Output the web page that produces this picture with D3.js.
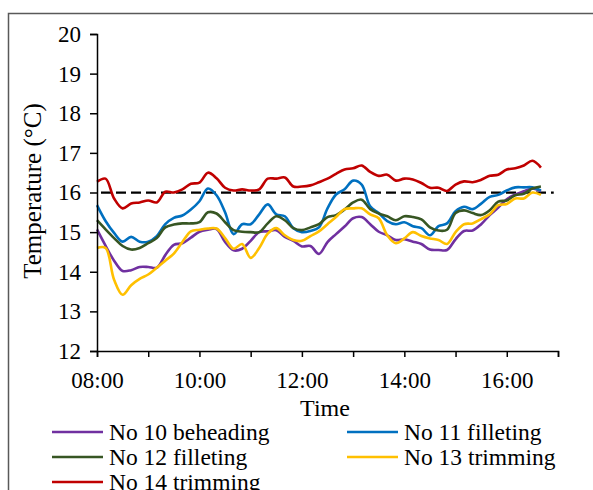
<!DOCTYPE html>
<html>
<head>
<meta charset="utf-8">
<script src="https://cdn.jsdelivr.net/npm/d3@7"></script>
<style>
  body { margin: 0; background: #fff; }
  svg text { font-family: "Liberation Serif", "Times New Roman", serif; fill: #000; }
</style>
</head>
<body>
<svg id="chart" width="593" height="490"></svg>
<script>
// readings every 10 minutes, 08:00 - 16:40
const times = [
  "08:00","08:10","08:20","08:30","08:40","08:50",
  "09:00","09:10","09:20","09:30","09:40","09:50",
  "10:00","10:10","10:20","10:30","10:40","10:50",
  "11:00","11:10","11:20","11:30","11:40","11:50",
  "12:00","12:10","12:20","12:30","12:40","12:50",
  "13:00","13:10","13:20","13:30","13:40","13:50",
  "14:00","14:10","14:20","14:30","14:40","14:50",
  "15:00","15:10","15:20","15:30","15:40","15:50",
  "16:00","16:10","16:20","16:30","16:40"
];

const no10 = [15.07,14.66,14.28,14.02,14.04,14.12,14.12,14.10,14.42,14.68,14.72,14.86,
  15.01,15.06,15.08,14.75,14.54,14.58,14.78,15.00,15.02,15.05,14.88,14.78,
  14.64,14.65,14.45,14.75,14.95,15.14,15.35,15.38,15.20,15.01,14.92,14.80,
  14.82,14.76,14.70,14.56,14.55,14.55,14.82,15.03,15.04,15.20,15.43,15.62,
  15.83,15.95,16.03,16.10,16.03];

const no11 = [15.68,15.28,14.98,14.76,14.88,14.76,14.76,14.90,15.20,15.36,15.42,15.57,
  15.78,16.10,15.93,15.50,14.95,15.20,15.20,15.45,15.70,15.45,15.40,15.10,
  15.00,15.03,15.12,15.60,15.95,16.08,16.30,16.20,15.65,15.48,15.28,15.20,
  15.25,15.15,15.10,14.92,15.15,15.22,15.53,15.64,15.58,15.72,15.89,15.94,
  16.05,16.13,16.13,16.13,16.05];

const no12 = [15.30,15.07,14.85,14.65,14.56,14.60,14.72,14.85,15.12,15.19,15.22,15.22,
  15.25,15.50,15.47,15.25,15.05,15.01,15.00,15.00,15.22,15.40,15.30,15.10,
  15.05,15.12,15.20,15.38,15.43,15.57,15.75,15.82,15.58,15.47,15.40,15.30,
  15.40,15.38,15.32,15.12,15.04,15.06,15.48,15.55,15.48,15.43,15.55,15.77,
  15.80,15.93,15.97,16.10,16.15];

const no13 = [14.60,14.60,13.80,13.42,13.66,13.82,13.93,14.10,14.28,14.46,14.75,15.02,
  15.06,15.09,15.09,14.85,14.58,14.70,14.35,14.60,14.96,15.10,14.92,14.80,
  14.78,14.90,15.02,15.20,15.38,15.58,15.60,15.60,15.45,15.35,14.92,14.72,
  14.84,15.00,14.90,14.84,14.80,14.70,15.00,15.20,15.22,15.33,15.45,15.68,
  15.71,15.85,15.85,16.00,15.94];

const no14 = [16.27,16.35,15.85,15.60,15.72,15.75,15.80,15.75,16.02,16.00,16.08,16.22,
  16.25,16.50,16.36,16.12,16.05,16.08,16.05,16.08,16.35,16.35,16.38,16.15,
  16.15,16.18,16.26,16.35,16.47,16.58,16.61,16.68,16.52,16.42,16.45,16.30,
  16.35,16.33,16.24,16.12,16.12,16.04,16.20,16.28,16.26,16.32,16.42,16.45,
  16.58,16.61,16.68,16.80,16.63];

const seriesNames = ["No 10 beheading", "No 11 filleting", "No 12 filleting", "No 13 trimming", "No 14 trimming"];
const seriesValues = [no10, no11, no12, no13, no14];
const seriesColors = ["#7030A0", "#0070C0", "#375623", "#FFC000", "#C00000"];

const limitValue = 16;
const limitSpan = ["08:00", "16:55"];
const yTicks = [12, 13, 14, 15, 16, 17, 18, 19, 20];

const parseTime = d3.timeParse("%H:%M");

const svg = d3.select("#chart");

// outer frame (runs off the right and bottom edges)
svg.append("path")
  .attr("d", "M8.5,490 V13.5 H593")
  .attr("fill", "none")
  .attr("stroke", "#595959")
  .attr("stroke-width", 1.5);

const x = d3.scaleTime()
  .domain([parseTime("08:00"), parseTime("17:00")])
  .range([97, 558]);

const y = d3.scaleLinear()
  .domain([12, 20])
  .range([351, 34]);

// limit line
svg.append("line")
  .attr("x1", x(parseTime(limitSpan[0]))).attr("x2", x(parseTime(limitSpan[1])))
  .attr("y1", y(limitValue)).attr("y2", y(limitValue))
  .attr("stroke", "#000")
  .attr("stroke-width", 2.25)
  .attr("stroke-dasharray", "10,5")
  .attr("stroke-dashoffset", -4);

const line = d3.line()
  .x((d, i) => x(parseTime(times[i])))
  .y(d => y(d))
  .curve(d3.curveCatmullRom);

svg.selectAll("path.series")
  .data(seriesValues)
  .join("path")
  .attr("class", "series")
  .attr("d", d => line(d))
  .attr("fill", "none")
  .attr("stroke", (d, i) => seriesColors[i])
  .attr("stroke-width", 2.6)
  .attr("stroke-linejoin", "round");

// axes
const yAxis = svg.append("g")
  .attr("transform", "translate(97,0)")
  .call(d3.axisLeft(y).tickValues(yTicks).tickSize(7).tickPadding(9).tickFormat(d3.format("d")));

const xAxis = svg.append("g")
  .attr("transform", "translate(0,351)")
  .call(d3.axisBottom(x)
    .ticks(d3.timeHour.every(1))
    .tickSize(6)
    .tickPadding(15)
    .tickFormat(d => d.getHours() % 2 === 0 && d.getHours() < 17 ? d3.timeFormat("%H:%M")(d) : ""));

[yAxis, xAxis].forEach(g => {
  g.select(".domain").attr("stroke", "#000").attr("stroke-width", 1.5);
  g.selectAll(".tick line").attr("stroke", "#000").attr("stroke-width", 1.5);
  g.selectAll(".tick text").style("font-size", "23px").attr("fill", "#000");
});

svg.append("text")
  .attr("x", 325).attr("y", 416)
  .attr("text-anchor", "middle")
  .style("font-size", "24px")
  .text("Time");

svg.append("text")
  .attr("transform", "translate(41,191) rotate(-90)")
  .attr("text-anchor", "middle")
  .style("font-size", "25px")
  .text("Temperature (°C)");

// legend
const legendCols = [52, 347];
const legend = svg.selectAll("g.legend")
  .data(seriesNames)
  .join("g")
  .attr("class", "legend")
  .attr("transform", (d, i) => `translate(${legendCols[i % 2]},${432 + Math.floor(i / 2) * 25})`);

legend.append("line")
  .attr("x1", 0).attr("x2", 51)
  .attr("stroke", (d, i) => seriesColors[i])
  .attr("stroke-width", 2.6);

legend.append("text")
  .attr("x", 57)
  .attr("dy", "0.33em")
  .style("font-size", "23.5px")
  .text(d => d);
</script>
</body>
</html>
